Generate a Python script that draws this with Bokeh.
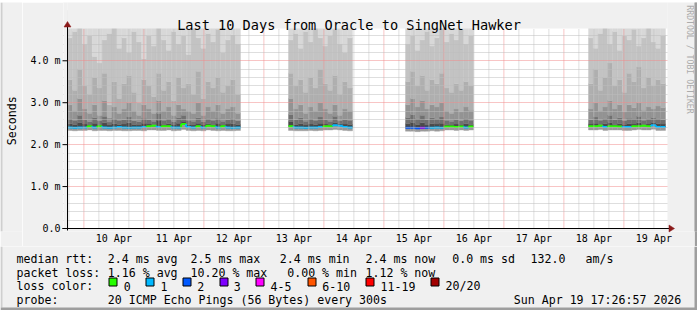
import numpy as np
from math import pi
from bokeh.plotting import figure
from bokeh.layouts import column, row
from bokeh.models import Range1d, FixedTicker, Grid, ColumnDataSource
from bokeh.core.properties import value
from bokeh.embed import file_html
from bokeh.resources import INLINE

# ---------------- data (hours since 2026-04-09 00:00, values in ms) ----------------
t_start, t_end = 17.449, 257.449          # 10 days ending Sun Apr 19 17:26:57
day_ticks = [36, 60, 84, 108, 132, 156, 180, 204, 228, 252]
day_labels = ["10 Apr", "11 Apr", "12 Apr", "13 Apr", "14 Apr",
              "15 Apr", "16 Apr", "17 Apr", "18 Apr", "19 Apr"]
y_ticks = [0, 1, 2, 3, 4]
y_labels = ["0.0", "1.0 m", "2.0 m", "3.0 m", "4.0 m"]

seg_start = [17.45, 105.85, 152.65, 225.85]
seg_end = [86.65, 131.45, 179.85, 256.65]

seg1_loss = [1,1,1,1,0,1,0,1,1,1, 1,1,1,1,1,1,0,0,1,0, 0,1,1,0,1,1,0,1,0,0, 1,0,1,1,1]
seg1_med = [2.41,2.40,2.41,2.41,2.44,2.41,2.44,2.41,2.40,2.41, 2.42,2.41,2.40,2.41,2.41,2.42,2.44,2.45,2.42,2.44,
            2.44,2.41,2.41,2.49,2.42,2.41,2.44,2.41,2.45,2.44, 2.41,2.44,2.41,2.40,2.41]
seg1_low = [2.34,2.33,2.34,2.34,2.35,2.33,2.34,2.34,2.33,2.34, 2.34,2.33,2.33,2.34,2.34,2.33,2.35,2.35,2.34,2.34,
            2.35,2.33,2.34,2.36,2.34,2.33,2.34,2.33,2.35,2.34, 2.33,2.34,2.33,2.33,2.34]
seg1_b1 = [2.50,2.48,2.53,2.49,2.47,2.51,2.48,2.52,2.47,2.50, 2.48,2.49,2.52,2.48,2.47,2.51,2.49,2.48,2.58,2.48,
           2.50,2.47,2.51,2.56,2.48,2.47,2.51,2.47,2.50,2.48, 2.51,2.47,2.49,2.50,2.48]
seg1_b2 = [2.62,2.58,2.70,2.60,2.55,2.65,2.57,2.68,2.54,2.62, 2.58,2.60,2.66,2.57,2.55,2.63,2.60,2.56,2.75,2.58,
           2.62,2.55,2.65,2.70,2.58,2.56,2.64,2.55,2.62,2.58, 2.63,2.56,2.60,2.62,2.57]
seg1_b3 = [2.95,2.80,3.10,2.85,2.75,2.95,2.70,3.05,2.65,2.90, 2.75,2.85,3.00,2.80,2.70,2.95,2.85,2.75,3.05,2.80,
           2.90,2.70,2.95,2.85,2.80,2.75,3.00,2.70,2.90,2.80, 2.95,2.75,2.85,2.90,2.75]
seg1_b4 = [3.55,3.30,3.80,3.40,3.20,3.60,3.35,3.70,2.95,3.50, 3.10,3.45,3.65,3.25,3.00,3.55,3.40,3.15,3.70,3.30,
           3.50,3.05,3.60,3.35,3.45,3.20,3.75,3.10,3.50,3.35, 3.60,3.25,3.40,3.55,3.20]
seg1_b5 = [4.55,4.70,4.80,4.40,4.60,4.10,3.95,4.50,4.65,4.85, 4.30,4.55,4.20,4.70,4.45,4.05,4.60,4.35,4.80,4.50,
           4.25,4.70,4.40,4.60,4.15,4.80,4.55,4.30,4.65,4.45, 4.75,4.20,4.50,4.62,4.40]

seg2_loss = [0,1,1,1,1,1,1,0,0,1,1,1,1]
seg2_med = [2.44,2.41,2.41,2.40,2.41,2.41,2.42,2.44,2.44,2.46,2.45,2.42,2.41]
seg2_low = [2.34,2.33,2.33,2.33,2.34,2.33,2.34,2.35,2.35,2.36,2.35,2.34,2.33]
seg2_b1 = [2.55,2.48,2.50,2.47,2.49,2.48,2.51,2.49,2.48,2.53,2.50,2.49,2.48]
seg2_b2 = [2.72,2.60,2.64,2.56,2.62,2.58,2.66,2.60,2.56,2.68,2.57,2.60,2.58]
seg2_b3 = [3.10,2.85,2.95,2.75,2.90,2.80,3.00,2.85,2.75,2.95,2.70,2.85,2.80]
seg2_b4 = [3.70,3.40,3.55,3.25,3.60,3.35,3.80,3.45,3.30,3.65,3.20,3.50,3.35]
seg2_b5 = [4.50,4.65,4.30,4.70,4.45,4.80,4.55,4.35,4.60,4.75,4.40,4.20,4.55]

seg3_loss = [2,2,2,3,2,1,1,1,0,0,0,0,1,0]
seg3_med = [2.40,2.40,2.39,2.40,2.40,2.40,2.41,2.40,2.43,2.43,2.42,2.43,2.41,2.43]
seg3_low = [2.32,2.32,2.31,2.32,2.32,2.33,2.32,2.33,2.35,2.35,2.34,2.35,2.34,2.35]
seg3_b1 = [2.50,2.53,2.48,2.52,2.47,2.50,2.49,2.51,2.48,2.47,2.49,2.47,2.50,2.48]
seg3_b2 = [2.65,2.72,2.62,2.70,2.60,2.64,2.62,2.66,2.58,2.56,2.60,2.57,2.62,2.58]
seg3_b3 = [2.95,3.10,2.90,3.05,2.85,2.95,2.90,3.00,2.80,2.75,2.85,2.78,2.90,2.82]
seg3_b4 = [3.50,3.75,3.40,3.65,3.30,3.55,3.45,3.70,3.35,3.25,3.45,3.30,3.50,3.40]
seg3_b5 = [4.40,4.60,4.25,4.50,4.70,4.35,4.55,4.80,4.45,4.65,4.50,4.75,4.40,4.60]

seg4_loss = [0,0,0,1,0,0,0,1,1,0,0,0,0,1,1,1]
seg4_med = [2.44,2.44,2.45,2.42,2.44,2.44,2.43,2.42,2.42,2.44,2.44,2.45,2.44,2.46,2.42,2.42]
seg4_low = [2.35,2.35,2.36,2.34,2.35,2.35,2.35,2.34,2.34,2.35,2.36,2.35,2.35,2.37,2.34,2.34]
seg4_b1 = [2.49,2.51,2.48,2.50,2.53,2.48,2.50,2.47,2.50,2.49,2.52,2.48,2.49,2.53,2.50,2.49]
seg4_b2 = [2.60,2.66,2.58,2.62,2.70,2.60,2.64,2.57,2.63,2.61,2.68,2.58,2.62,2.65,2.62,2.60]
seg4_b3 = [2.85,3.00,2.80,2.90,3.05,2.85,2.95,2.78,2.95,2.88,3.00,2.82,2.90,2.85,2.92,2.88]
seg4_b4 = [3.45,3.80,3.30,3.60,3.95,3.40,3.55,3.25,3.70,3.50,3.85,3.35,3.60,3.40,3.55,3.45]
seg4_b5 = [4.55,4.30,4.65,4.80,4.40,4.70,4.25,4.60,4.50,4.75,4.35,4.55,4.80,4.45,4.30,4.60]
ping_max = 5.2

loss_keys = ["0", "1", "2", "3", "4-5", "6-10", "11-19", "20/20"]
loss_colors = ["#26ff00", "#00b8ff", "#0059ff", "#7e00ff", "#ff00ff", "#ff5500", "#ff0000", "#a10000"]

legend_line1 = ["median rtt:", "2.4 ms avg", "2.5 ms max", "2.4 ms min", "2.4 ms now", "0.0 ms sd", "132.0", "am/s"]
legend_line2 = ["packet loss:", "1.16 % avg", "10.20 % max", "0.00 % min", "1.12 % now"]
legend_line4 = ["probe:", "20 ICMP Echo Pings (56 Bytes) every 300s", "Sun Apr 19 17:26:57 2026"]
title_text = "Last 10 Days from Oracle to SingNet Hawker"
y_title = "Seconds"
credit_text = "RRDTOOL / TOBI OETIKER"

# ---------------- styling ----------------
FONT = "DejaVu Sans Mono"
BG = "#f0f0f0"
SHADE_A = "#cfcfcf"
SHADE_B = "#9e9e9e"
ARROW = "#8b1a1a"
MAJOR = "#f08a8a"
MINOR = "#bdbdbd"
YMAX = 4.77
PX_H = 600.0 / (t_end - t_start)   # pixels per hour
YPX = 200.0 / YMAX                 # pixels per ms
shades = ["#999999", "#4a4a4a", "#707070", "#939393", "#afafaf", "#c3c3c3", "#d8d8d8"]


def loss_color(n):
    if n <= 3:
        return loss_colors[n]
    if n <= 5:
        return loss_colors[4]
    if n <= 10:
        return loss_colors[5]
    if n <= 19:
        return loss_colors[6]
    return loss_colors[7]


def dx(px):   # page pixel -> data x of main plot
    return t_start + (px - 67) / PX_H


def dy(py):   # page pixel -> data y of main plot
    return (228 - py) / YPX


XLO, XHI = dx(63), dx(694)
YLO, YHI = dy(231), dy(2)

p = figure(width=672, height=244, x_range=Range1d(XLO, XHI), y_range=Range1d(YLO, YHI),
           min_border_left=41, min_border_right=0, min_border_top=0, min_border_bottom=15,
           output_backend="svg", toolbar_location=None, background_fill_color="white",
           border_fill_color=BG, outline_line_color=None)

segments = [
    (seg1_loss, seg1_med, seg1_low, seg1_b1, seg1_b2, seg1_b3, seg1_b4, seg1_b5),
    (seg2_loss, seg2_med, seg2_low, seg2_b1, seg2_b2, seg2_b3, seg2_b4, seg2_b5),
    (seg3_loss, seg3_med, seg3_low, seg3_b1, seg3_b2, seg3_b3, seg3_b4, seg3_b5),
    (seg4_loss, seg4_med, seg4_low, seg4_b1, seg4_b2, seg4_b3, seg4_b4, seg4_b5),
]

q = dict(left=[], right=[], bottom=[], top=[], color=[])
m = dict(x0=[], y0=[], x1=[], y1=[], color=[])
for (s0, s1, seg) in zip(seg_start, seg_end, segments):
    loss, med, low, b1, b2, b3, b4, b5 = seg
    n = len(med)
    edges = np.linspace(s0, s1, n + 1)
    for i in range(n):
        levels = [low[i], med[i], b1[i], b2[i], b3[i], b4[i], b5[i], ping_max]
        for k in range(7):
            q["left"].append(edges[i]); q["right"].append(edges[i + 1])
            q["bottom"].append(levels[k]); q["top"].append(levels[k + 1])
            q["color"].append(shades[k])
        c = loss_color(loss[i])
        m["x0"].append(edges[i]); m["x1"].append(edges[i + 1])
        m["y0"].append(med[i]); m["y1"].append(med[i]); m["color"].append(c)
        if i + 1 < n:
            m["x0"].append(edges[i + 1]); m["x1"].append(edges[i + 1])
            m["y0"].append(med[i]); m["y1"].append(med[i + 1])
            m["color"].append(loss_color(loss[i + 1]))

p.quad(left="left", right="right", bottom="bottom", top="top", fill_color="color",
       line_color="color", line_width=0.4, source=ColumnDataSource(q))
p.segment(x0="x0", y0="y0", x1="x1", y1="y1", line_color="color", line_width=2,
          source=ColumnDataSource(m))

# axes (labels only; the axis lines are drawn below like rrdtool does)
p.xaxis.ticker = FixedTicker(ticks=day_ticks)
p.xaxis.major_label_overrides = {t: s for t, s in zip(day_ticks, day_labels)}
p.xaxis.major_label_standoff = 1
p.yaxis.ticker = FixedTicker(ticks=y_ticks)
p.yaxis.major_label_overrides = {t: s for t, s in zip(y_ticks, y_labels)}
p.yaxis.major_label_standoff = 3
for ax in (p.xaxis, p.yaxis):
    ax.major_label_text_font = FONT
    ax.major_label_text_font_size = "10px"
    ax.major_label_text_color = "black"
    ax.axis_line_color = None
    ax.major_tick_line_color = None
    ax.minor_tick_line_color = None
    ax.major_tick_out = 0
    ax.major_tick_in = 0
    ax.minor_tick_out = 0
    ax.minor_tick_in = 0

# grids: horizontal from a Bokeh Grid, vertical (midnight / 6 h) as dotted rules
p.xgrid.visible = False
p.ygrid.visible = False
y_minor = [i * 0.2 for i in range(24) if i % 5]
gy = Grid(dimension=1, ticker=FixedTicker(ticks=y_ticks, minor_ticks=y_minor))
gy.grid_line_color = MAJOR
gy.grid_line_dash = "1 1"
gy.minor_grid_line_color = MINOR
gy.minor_grid_line_dash = "1 1"
gy.level = "guide"
p.add_layout(gy)

midnights = [24 * d for d in range(1, 11)]
quarters = [6 * h for h in range(3, 43) if h % 4]
p.segment(x0=quarters, y0=[0] * len(quarters), x1=quarters, y1=[YMAX] * len(quarters),
          line_color=MINOR, line_width=1, line_dash="1 1", level="guide")
p.segment(x0=midnights, y0=[0] * len(midnights), x1=midnights, y1=[YMAX] * len(midnights),
          line_color=MAJOR, line_width=1, line_dash="1 1", level="guide")

# paint the margins inside the frame with the picture background
p.quad(left=[XLO, t_end, t_start, t_start], right=[t_start, XHI, t_end, t_end],
       bottom=[YLO, YLO, YMAX, YLO], top=[YHI, YHI, YHI, 0],
       fill_color=BG, line_color=None, level="overlay")

# axis lines, ticks and arrows
p.segment(x0=[t_start, dx(62)], y0=[dy(230), 0], x1=[t_start, dx(669)], y1=[dy(26), 0],
          line_color="black", line_width=1, level="overlay")
p.segment(x0=[dx(62)] * len(y_ticks), y0=y_ticks, x1=[t_start] * len(y_ticks), y1=y_ticks,
          line_color="black", line_width=1, level="overlay")
p.patches(xs=[[dx(63.5), dx(67), dx(70.5)], [dx(668.5), dx(674), dx(668.5)]],
          ys=[[dy(26.5), dy(21), dy(26.5)], [dy(224.5), dy(228), dy(231.5)]],
          fill_color=ARROW, line_color=ARROW, line_width=0.5, level="overlay")

# title and credit
p.text(x=[dx(348.5)], y=[dy(24)], text=[title_text], text_font=value(FONT),
       text_font_size=value("13.6px"), text_align="center", text_baseline="alphabetic",
       text_color="black", level="overlay")
p.text(x=[dx(689)], y=[dy(59)], text=[credit_text], angle=-pi / 2, text_font=value(FONT),
       text_font_size=value("8.2px"), text_align="center", text_baseline="middle",
       text_color="#ababab", level="overlay")

# ---------------- left strip with the y title ----------------
pl = figure(width=22, height=244, x_range=Range1d(0, 22), y_range=Range1d(246, 2),
            min_border=0, output_backend="svg", toolbar_location=None,
            x_axis_type=None, y_axis_type=None, background_fill_color=BG,
            border_fill_color=BG, outline_line_color=None)
pl.quad(left=[0], right=[2], top=[2], bottom=[246], fill_color=SHADE_A, line_color=None)
pl.text(x=[11], y=[128], text=[y_title], angle=pi / 2, text_font=value(FONT),
        text_font_size=value("11.6px"), text_align="center", text_baseline="middle",
        text_color="black")

# ---------------- legend area ----------------
p2 = figure(width=697, height=64, x_range=Range1d(0, 697), y_range=Range1d(310, 246),
            min_border=0, output_backend="svg", toolbar_location=None,
            x_axis_type=None, y_axis_type=None, background_fill_color=BG,
            border_fill_color=BG, outline_line_color=None)

tx, ty, tt = [], [], []
for s, x in zip(legend_line1, [16, 107.3, 190, 279.3, 365, 451.7, 530, 585]):
    tx.append(x); ty.append(258.3); tt.append(s)
for s, x in zip(legend_line2, [16, 107.3, 190, 286.7, 365]):
    tx.append(x); ty.append(272.0); tt.append(s)
tx.append(16); ty.append(285.7); tt.append("loss color:")
for s, x in zip(loss_keys, [123.3, 160, 196.7, 233.3, 270, 321.7, 380, 445]):
    tx.append(x); ty.append(285.7); tt.append(s)
for s, x in zip(legend_line4, [16, 107.3, 513.3]):
    tx.append(x); ty.append(299.4); tt.append(s)
p2.text(x=tx, y=ty, text=tt, text_font=value(FONT), text_font_size=value("11.6px"),
        text_align="left", text_baseline="alphabetic", text_color="black")

box_left = [108.5, 145.5, 182.5, 219.5, 255.5, 307.5, 365.5, 430.5]
p2.quad(left=box_left, right=[b + 8 for b in box_left], top=[277.5] * 8, bottom=[285.5] * 8,
        fill_color=loss_colors, line_color="black", line_width=1)

p2.quad(left=[0, 694, 0], right=[2, 697, 697], top=[246, 246, 307], bottom=[307, 310, 310],
        fill_color=[SHADE_A, SHADE_B, SHADE_B], line_color=None)


def edge(w, h, c):
    f = figure(width=w, height=h, x_range=Range1d(0, 1), y_range=Range1d(0, 1), min_border=0,
               output_backend="svg", toolbar_location=None, x_axis_type=None, y_axis_type=None,
               background_fill_color=c, border_fill_color=c, outline_line_color=None)
    f.quad(left=[0], right=[1], bottom=[0], top=[1], fill_color=c, line_color=None)
    return f


layout = column(edge(697, 2, SHADE_A),
                row(pl, p, edge(3, 244, SHADE_B)),
                p2)

open("out.html", "w").write(file_html(layout, INLINE))
